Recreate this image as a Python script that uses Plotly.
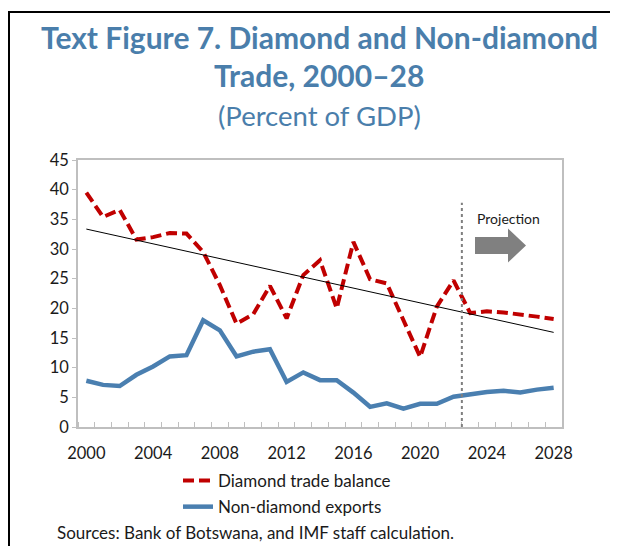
import numpy as np
import plotly.graph_objects as go

years = list(range(2000, 2029))
diamond_trade_balance = [39.5, 35.4, 36.6, 31.6, 32.0, 32.7, 32.6, 29.5, 23.9, 17.4,
                         19.0, 23.8, 18.3, 25.6, 28.1, 20.0, 31.2, 24.9, 24.2, 18.0,
                         11.8, 20.3, 24.7, 19.2, 19.5, 19.3, 19.0, 18.6, 18.2]
non_diamond_exports = [7.8, 7.1, 6.9, 8.8, 10.2, 11.9, 12.1, 18.0, 16.3, 11.9,
                       12.7, 13.1, 7.6, 9.2, 7.9, 7.9, 5.8, 3.4, 4.0, 3.1,
                       3.9, 3.9, 5.1, 5.5, 5.9, 6.1, 5.8, 6.3, 6.6]
x_tick_labels = [2000, 2004, 2008, 2012, 2016, 2020, 2024, 2028]
y_ticks = [0, 5, 10, 15, 20, 25, 30, 35, 40, 45]
projection_start = 2022.5

# linear trend of the diamond trade balance
coef = np.polyfit(years, diamond_trade_balance, 1)
trend = list(np.polyval(coef, years))

# page places the figure at an 8px body margin
OFF = 8
W, H = 618, 546
L, R, T, B = 78, 562, 160, 427
pw, ph = R - L, B - T

def px(xp):
    return (xp - L) / pw

def py(yp):
    return (B - yp) / ph

FONT = "Lato"
BLUE = "#4A7FB0"
RED = "#C00000"
TITLE = "#4A7EAB"
TXT = "#1a1a1a"

fig = go.Figure()
fig.add_trace(go.Scatter(x=years, y=diamond_trade_balance, mode="lines",
                         name="Diamond trade balance", legendgroup="a",
                         line=dict(color=RED, width=4, dash="11px,5px")))
fig.add_trace(go.Scatter(x=years, y=non_diamond_exports, mode="lines",
                         name="Non-diamond exports", legendgroup="b",
                         line=dict(color=BLUE, width=4.5)))
fig.add_trace(go.Scatter(x=years, y=trend, mode="lines", showlegend=False,
                         line=dict(color="black", width=1)))

fig.update_xaxes(range=[1999.5, 2028.5], tickmode="array", tickvals=x_tick_labels,
                 ticks="", showgrid=False, zeroline=False,
                 showline=True, linecolor="#BFBFBF", linewidth=1.5, mirror=True,
                 tickfont=dict(family=FONT, size=16.5, color=TXT),
                 ticklabelstandoff=10,
                 minor=dict(tickmode="linear", tick0=1999.5, dtick=1, ticks="inside",
                            ticklen=5, tickcolor="#BFBFBF", tickwidth=1.2, showgrid=False))
fig.update_yaxes(range=[0, 45], tickmode="array", tickvals=y_ticks,
                 ticks="outside", ticklen=4, tickcolor="#BFBFBF", tickwidth=1.2,
                 showgrid=False, zeroline=False,
                 showline=True, linecolor="#BFBFBF", linewidth=1.5, mirror=True,
                 tickfont=dict(family=FONT, size=16.5, color=TXT))

shapes = [
    # projection divider
    dict(type="line", xref="x", yref="y", x0=projection_start, x1=projection_start,
         y0=0, y1=37.8, line=dict(color="#7F7F7F", width=2, dash="dot")),
    # projection arrow
    dict(type="path", xref="paper", yref="paper", fillcolor="#808080",
         line=dict(width=0),
         path=("M {a},{b} L {c},{b} L {c},{d} L {e},{f} L {c},{g} L {c},{h} L {a},{h} Z"
               .format(a=px(475), b=py(237), c=px(508), d=py(228.5), e=px(526),
                       f=py(245.5), g=py(262.5), h=py(254)))),
    # outer frame
    dict(type="rect", xref="paper", yref="paper", x0=px(9), x1=px(640), y0=py(12), y1=py(570),
         line=dict(color="black", width=2)),
]

annotations = [
    dict(text="<b>Text Figure 7. Diamond and Non-diamond</b>", x=px(319), y=py(37),
         font=dict(family=FONT, size=30, color=TITLE)),
    dict(text="<b>Trade, 2000–28</b>", x=px(319), y=py(75),
         font=dict(family=FONT, size=30, color=TITLE)),
    dict(text="(Percent of GDP)", x=px(319), y=py(115),
         font=dict(family=FONT, size=27.5, color=TITLE)),
    dict(text="Projection", x=px(475), y=py(218), xanchor="left",
         font=dict(family=FONT, size=14, color=TXT)),
    dict(text="Sources: Bank of Botswana, and IMF staff calculation.", x=px(55), y=py(532),
         xanchor="left", font=dict(family=FONT, size=17, color=TXT)),
]
for a in annotations:
    a.update(xref="paper", yref="paper", showarrow=False)
    a.setdefault("xanchor", "center")
    a.setdefault("yanchor", "middle")

fig.update_layout(
    width=W - OFF, height=H - OFF,
    margin=dict(l=L - OFF, r=W - R, t=T - OFF, b=H - B),
    paper_bgcolor="white", plot_bgcolor="white",
    shapes=shapes, annotations=annotations,
    legend=dict(orientation="v", x=px(178), y=py(463), xanchor="left", yanchor="top",
                font=dict(family=FONT, size=17, color=TXT),
                tracegroupgap=1, bgcolor="rgba(0,0,0,0)"),
)
fig.write_html("out.html")
